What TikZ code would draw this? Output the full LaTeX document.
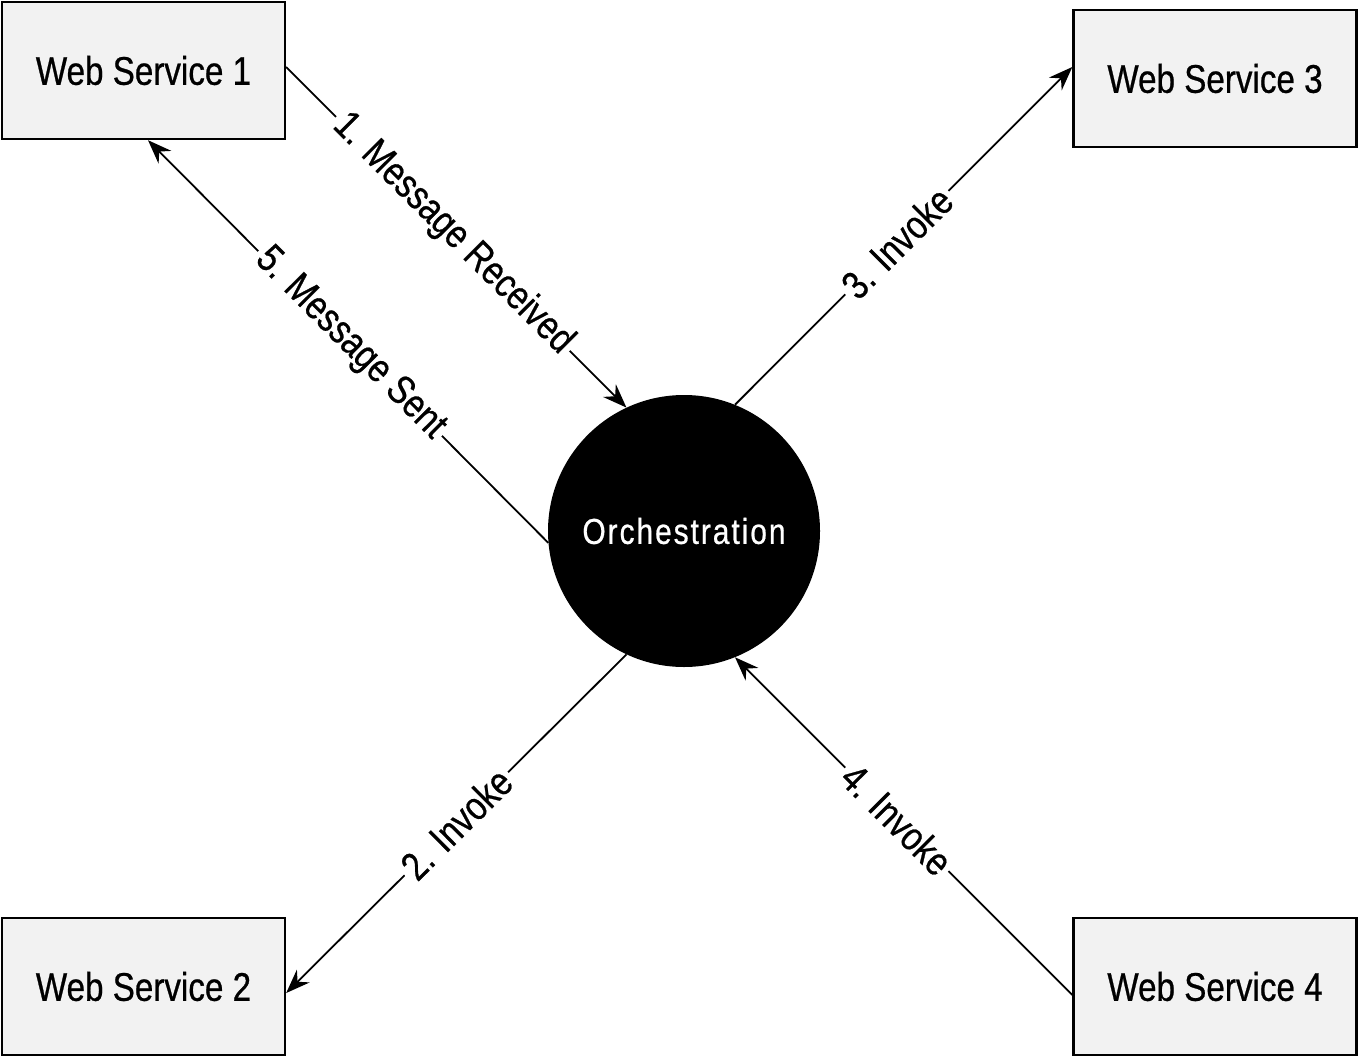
\documentclass[tikz,border=0pt]{standalone}
\usepackage{fontspec}
\setmainfont[FakeStretch=0.83,FakeBold=0.6]{Liberation Sans}
\usetikzlibrary{arrows.meta}
\begin{document}
\begin{tikzpicture}[x=1pt,y=1pt,
  wsbox/.style={draw=black,line width=2.4pt,fill=black!5,minimum width=283pt,minimum height=137pt,inner sep=0pt,font=\fontsize{40}{44}\selectfont},
  orchnode/.style={circle,fill=black,minimum size=272pt,inner sep=0pt,text=white,font=\fontsize{36}{40}\selectfont\addfontfeature{LetterSpace=5.5}},
  conn/.style={line width=1.8pt,-{Stealth[length=24pt,width=18pt,inset=8pt]}},
  lbl/.style={fill=white,sloped,inner sep=4pt,font=\fontsize{40}{44}\selectfont}]
\useasboundingbox (0,0) rectangle (1359,-1057);
\node[wsbox] (ws1) at (143.5,-70.5) {Web Service 1};
\node[wsbox] (ws3) at (1215,-78.5) {Web Service 3};
\node[wsbox] (ws2) at (143.5,-986.5) {Web Service 2};
\node[wsbox] (ws4) at (1215,-986.5) {Web Service 4};
\node[orchnode] (orch) at (684,-531) {Orchestration};
\draw[conn] ([yshift=3.5pt]ws1.east) -- node[lbl,pos=0.49] {1. Message Received} (orch.115);
\draw[conn] (orch.185) -- node[lbl,pos=0.495] {5. Message Sent} ([xshift=4.5pt]ws1.south);
\draw[conn] (orch.68) -- node[lbl,pos=0.48] {3. Invoke} ([yshift=11.5pt]ws3.west);
\draw[conn] (orch.245) -- node[lbl,pos=0.5] {2. Invoke} ([yshift=-6.5pt]ws2.east);
\draw[conn] ([yshift=-8.5pt]ws4.west) -- node[lbl,pos=0.52] {4. Invoke} (orch.-68);
\end{tikzpicture}
\end{document}
